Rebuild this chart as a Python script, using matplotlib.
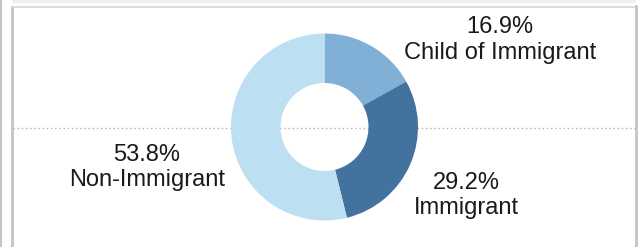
import matplotlib
matplotlib.use("Agg")
import matplotlib.pyplot as plt
from matplotlib.lines import Line2D
from matplotlib.patches import Rectangle

categories = ["Child of Immigrant", "Immigrant", "Non-Immigrant"]
values = [16.9, 29.2, 53.8]
colors = ["#80b0d6", "#44729f", "#bcdff1"]

W, H = 639, 247
fig = plt.figure(figsize=(W / 100, H / 100), dpi=100)
ax = fig.add_axes([0, 0, 1, 1])
ax.set_xlim(0, W)
ax.set_ylim(0, H)
ax.set_aspect("equal")
ax.axis("off")

def Y(y):
    return H - y

# frame decorations
ax.add_patch(Rectangle((12, Y(3)), 624, 3, color="#eef0f4", lw=0, zorder=0))
ax.add_line(Line2D([0.5, 0.5], [0, H], color="#c4c4c4", lw=1.5, zorder=1))
ax.add_line(Line2D([12, 12], [0, Y(7)], color="#c4c4c4", lw=2, zorder=1))
ax.add_line(Line2D([12, 636], [Y(7), Y(7)], color="#d6d6d6", lw=1.2, zorder=1))
ax.add_line(Line2D([635.5, 635.5], [0, Y(6)], color="#c4c4c4", lw=2, zorder=1))

# dotted gridline
ax.add_line(Line2D([13, 635], [Y(128), Y(128)], color="#b0b0b0", lw=1,
                   linestyle=(0, (1, 2)), zorder=1))

cx, cy, R, r = 324.5, Y(127), 93.5, 44
ax.pie(values, colors=colors, startangle=90, counterclock=False,
       center=(cx, cy), radius=R, frame=True,
       wedgeprops=dict(width=R - r, linewidth=0))
ax.set_xlim(0, W)
ax.set_ylim(0, H)
ax.axis("off")

font = "Liberation Sans"
fs = 17
tc = "#1a1a1a"
labels = [(f"{values[0]:.1f}%", categories[0], 500, 27, 53),
          (f"{values[1]:.1f}%", categories[1], 466, 183, 208),
          (f"{values[2]:.1f}%", categories[2], 147, 155, 180)]
for pct, name, x, y1, y2 in labels:
    ax.text(x, Y(y1), pct, ha="center", va="center", fontsize=fs, family=font, color=tc)
    ax.text(x, Y(y2), name, ha="center", va="center", fontsize=fs, family=font, color=tc)

fig.savefig("out.png", dpi=100)
